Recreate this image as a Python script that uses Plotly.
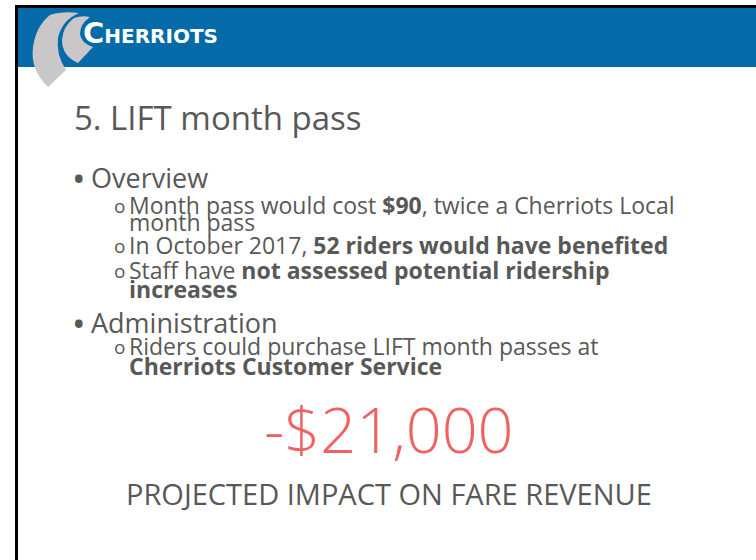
import plotly.graph_objects as go

# ---- content ----
brand_initial = "C"
brand_rest = "HERRIOTS"
slide_title = "5. LIFT month pass"
bullet_labels = ["Overview", "Administration"]
overview_lines = [
    "Month pass would cost <b>$90</b>, twice a Cherriots Local",
    "month pass",
    "In October 2017, <b>52 riders would have benefited</b>",
    "Staff have <b>not assessed potential ridership</b>",
    "<b>increases</b>",
]
overview_marks = [True, False, True, True, False]
admin_lines = [
    "Riders could purchase LIFT month passes at",
    "<b>Cherriots Customer Service</b>",
]
admin_marks = [True, False]
impact_value = "-$21,000"
impact_label = "PROJECTED IMPACT ON FARE REVENUE"

# ---- style ----
W, H = 756, 560
BLUE = "#046AA8"
GREY_LOGO = "#C9C7C7"
TEXT = "#585858"
RED = "#F06161"
FONT = "Open Sans"

fig = go.Figure()
fig.add_trace(go.Scatter(x=[0, W], y=[0, H], mode="markers",
                         marker=dict(opacity=0), hoverinfo="skip", showlegend=False))

shapes = []
# black frame (left and top)
shapes.append(dict(type="rect", x0=15, x1=18, y0=5, y1=H + 5, fillcolor="black", line_width=0))
shapes.append(dict(type="rect", x0=15, x1=W + 5, y0=5, y1=8, fillcolor="black", line_width=0))
# blue header band
shapes.append(dict(type="rect", x0=18, x1=W + 5, y0=8, y1=67, fillcolor=BLUE, line_width=0))
# logo swooshes
outer = ("M 50 15 Q 62 11 79 13 Q 62 20 58 38 Q 56 55 66 70 "
         "L 48 87 Q 30 70 33 47 Q 36 26 50 15 Z")
inner = ("M 74 18 Q 82 15 90 17 Q 80 24 80 34 Q 81 43 93 47 "
         "L 78 63 Q 62 56 62 40 Q 63 26 74 18 Z")
for p in (outer, inner):
    shapes.append(dict(type="path", path=p, fillcolor=GREY_LOGO, line_width=0, layer="above"))

ann = []
def text(x, y, s, size, color=TEXT, xanchor="left", family=FONT, weight=None):
    f = dict(family=family, size=size, color=color)
    if weight is not None:
        f["weight"] = weight
    ann.append(dict(x=x, y=y, xref="x", yref="y", text=s, showarrow=False,
                    xanchor=xanchor, yanchor="middle", font=f))

# brand
text(81, 33, "<span style='font-size:29px'>" + brand_initial + "</span>" + brand_rest,
     20, color="white", family="DejaVu Sans", weight="bold")

# title
text(72, 117, slide_title, 33)

# bullets and sub-bullets
bullet_y = [177, 322]
sub_y = [[205, 222, 245, 270, 289], [346, 366]]
groups = [(overview_lines, overview_marks), (admin_lines, admin_marks)]
for b, by, (lines, marks), ys in zip(bullet_labels, bullet_y, groups, sub_y):
    text(70, by + 1, "•", 36)
    text(89, by, b, 27)
    for line, mark, y in zip(lines, marks, ys):
        if mark:
            text(112, y + 1, "o", 19)
        text(127, y, line, 23)

# impact
text(389, 428, impact_value, 63, color=RED, xanchor="center", weight=300)
text(389, 493, impact_label, 29, xanchor="center")

fig.update_layout(
    width=W, height=H, margin=dict(l=0, r=0, t=0, b=0),
    paper_bgcolor="white", plot_bgcolor="white",
    xaxis=dict(range=[0, W], visible=False, fixedrange=True),
    yaxis=dict(range=[H, 0], visible=False, fixedrange=True),
    shapes=shapes, annotations=ann, showlegend=False,
)
fig.write_html("out.html", config={"displayModeBar": False},
               post_script="document.body.style.margin='0px';")
